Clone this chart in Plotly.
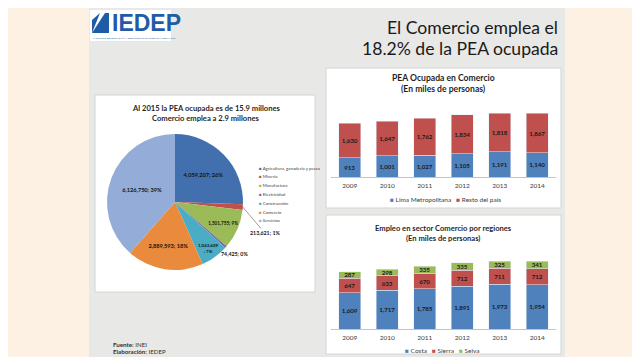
import math
import plotly.graph_objects as go

W, H = 640, 357
FONT = "Lato, 'Open Sans', sans-serif"

# ---------------- data ----------------
sectors = ["Agricultura, ganadería y pesca", "Minería", "Manufactura", "Electricidad",
           "Construcción", "Comercio", "Servicios"]
workers = [4059207, 213621, 1501755, 74425, 1043609, 2889593, 6126750]
sector_colors = ["#4270AE", "#C0504D", "#9BBB59", "#8064A2", "#4BACC6", "#EA8A3C", "#93ACD8"]

years = ["2009", "2010", "2011", "2012", "2013", "2014"]
lima = [913, 1001, 1027, 1105, 1191, 1140]
resto = [1630, 1647, 1762, 1834, 1818, 1867]
costa = [1609, 1717, 1785, 1891, 1973, 1954]
sierra = [647, 633, 670, 712, 711, 712]
selva = [287, 298, 335, 335, 325, 341]

BLUE, RED, GREEN = "#4F81BD", "#C0504D", "#9BBB59"


def px(x):
    return x / W


def py(y):
    return 1 - y / H


total = sum(workers)
comercio_share = workers[5] / total * 100

# pie labels built from the values
pie_text = []
for i, v in enumerate(workers):
    pct = round(v / total * 100)
    sep = "<br>" if sectors[i] == "Construcción" else ""
    pie_text.append(f"{v:,}{sep}; {pct}%")
small = {1, 3}
pie_pos = ["none" if i in small else "inside" for i in range(len(workers))]

fig = go.Figure()

# pie geometry (pixels)
CX, CY, R = 167, 194, 68
fig.add_trace(go.Pie(
    labels=sectors, values=workers, text=pie_text, textinfo="text",
    textposition=pie_pos, insidetextorientation="horizontal",
    sort=False, direction="clockwise", rotation=0,
    marker=dict(colors=sector_colors, line=dict(width=0)),
    textfont=dict(size=5.6, color="#141414", family=FONT, weight="bold"),
    domain=dict(x=[px(CX - R), px(CX + R)], y=[py(CY + R), py(CY - R)]),
    showlegend=False, hoverinfo="label+value+percent",
))

bar_common = dict(texttemplate="%{y:,}", textposition="inside", insidetextanchor="middle",
                  textangle=0, constraintext="none",
                  textfont=dict(size=6.2, color="#1a1a1a", family=FONT, weight="bold"),
                  showlegend=False)

fig.add_trace(go.Bar(x=years, y=lima, name="Lima Metropolitana", marker_color=BLUE,
                     xaxis="x", yaxis="y", **bar_common))
fig.add_trace(go.Bar(x=years, y=resto, name="Resto del país", marker_color=RED,
                     xaxis="x", yaxis="y", **bar_common))
fig.add_trace(go.Bar(x=years, y=costa, name="Costa", marker_color=BLUE,
                     xaxis="x2", yaxis="y2", **bar_common))
fig.add_trace(go.Bar(x=years, y=sierra, name="Sierra", marker_color=RED,
                     xaxis="x2", yaxis="y2", **bar_common))
fig.add_trace(go.Bar(x=years, y=selva, name="Selva", marker_color=GREEN,
                     xaxis="x2", yaxis="y2", **bar_common))

xax = dict(showline=True, linecolor="#c4c4c4", linewidth=1, ticks="", showgrid=False,
           tickfont=dict(size=6.5, color="#404040", family=FONT), fixedrange=True,
           ticklabelstandoff=2)
yax = dict(range=[0, 3500], visible=False, showgrid=False, fixedrange=True)

shapes = [
    # slide area
    dict(type="rect", xref="paper", yref="paper", x0=px(81), x1=px(557), y0=0, y1=1,
         fillcolor="#e8e8e6", line=dict(width=0), layer="below"),
    # logo box
    dict(type="rect", xref="paper", yref="paper", x0=px(82), x1=px(163), y0=py(33), y1=py(2),
         fillcolor="#ffffff", line=dict(width=0), layer="below"),
    dict(type="path", xref="paper", yref="paper",
         path=f"M {px(84)},{py(25)} L {px(97)},{py(5)} L {px(101)},{py(5)} L {px(101)},{py(25)} Z",
         fillcolor="#1F5CA8", line=dict(width=0), layer="below"),
    dict(type="path", xref="paper", yref="paper",
         path=f"M {px(84)},{py(25)} L {px(84)},{py(12)} L {px(92)},{py(5)} Z",
         fillcolor="#1F5CA8", line=dict(width=0), layer="below"),
    # panels
    dict(type="rect", xref="paper", yref="paper", x0=px(87), x1=px(307), y0=py(284), y1=py(87),
         fillcolor="#ffffff", line=dict(color="#d4d4d4", width=1), layer="below"),
    dict(type="rect", xref="paper", yref="paper", x0=px(318), x1=px(553), y0=py(200), y1=py(60),
         fillcolor="#ffffff", line=dict(color="#d4d4d4", width=1), layer="below"),
    dict(type="rect", xref="paper", yref="paper", x0=px(318), x1=px(553), y0=py(346), y1=py(207),
         fillcolor="#ffffff", line=dict(color="#d4d4d4", width=1), layer="below"),
]

ann = []


def text(x, y, s, size, color="#1f1f1f", bold=False, xanchor="center", family=FONT):
    ann.append(dict(x=px(x), y=py(y), xref="paper", yref="paper", text=s, showarrow=False,
                    xanchor=xanchor, yanchor="middle",
                    font=dict(size=size, color=color, family=family,
                              weight="bold" if bold else "normal")))


# main title
text(552, 19, "El Comercio emplea el", 17.6, "#1a1a1a", xanchor="right")
text(552, 40, f"{comercio_share:.1f}% de la PEA ocupada", 17.6, "#1a1a1a", xanchor="right")

# logo
text(102, 15, "IEDEP", 23, "#1F5CA8", bold=True, xanchor="left",
     family="'Liberation Sans Narrow', 'Arial Narrow', sans-serif")
text(83, 29.5, "INSTITUTO DE ECONOMÍA Y DESARROLLO EMPRESARIAL DE LA CCL", 2.6, "#1F5CA8",
     xanchor="left")

# pie title
text(198, 100, f"Al 2015 la PEA ocupada es de {total / 1e6:.1f} millones", 7.6, bold=True)
text(198, 110, f"Comercio emplea a {workers[5] / 1e6:.1f} millones", 7.6, bold=True)

# pie legend
for i, (name, col) in enumerate(zip(sectors, sector_colors)):
    text(249, 160 + 8.83 * i, f"<span style='color:{col}'>■</span> {name}", 4.4, "#404040",
         xanchor="left")

# labels of the thin slices
cum = 0
mids = []
for v in workers:
    mids.append((cum + v / 2) / total * 2 * math.pi)
    cum += v
th = mids[1]
tipx, tipy = CX + R * math.sin(th), CY - R * math.cos(th)
ann.append(dict(x=px(tipx), y=py(tipy), xref="paper", yref="paper", text=pie_text[1],
                showarrow=True, arrowhead=0, arrowwidth=0.7, arrowcolor="#8a7250",
                ax=22, ay=26, standoff=0, xanchor="center", yanchor="middle",
                font=dict(size=5.3, color="#141414", family=FONT, weight="bold")))
th = mids[3]
tipx, tipy = CX + R * math.sin(th), CY - R * math.cos(th)
ann.append(dict(x=px(tipx), y=py(tipy), xref="paper", yref="paper", text=pie_text[3],
                showarrow=False, xshift=9, yshift=-7, xanchor="center", yanchor="middle",
                font=dict(size=5.3, color="#141414", family=FONT, weight="bold")))

# bar chart titles
text(435, 70, "PEA Ocupada en Comercio", 8.6, bold=True)
text(435, 81, "(En miles de personas)", 8.6, bold=True)
text(435, 220, "Empleo en sector Comercio por regiones", 7.6, bold=True)
text(435, 230, "(En miles de personas)", 7.6, bold=True)


def legend_line(names, cols):
    return "   ".join(f"<span style='color:{c}'>■</span> {n}" for n, c in zip(names, cols))


text(437, 191, legend_line(["Lima Metropolitana", "Resto del país"], [BLUE, RED]), 6.5, "#404040")
text(434, 342, legend_line(["Costa", "Sierra", "Selva"], [BLUE, RED, GREEN]), 6.5, "#404040")

# source
text(103, 336, "<b>Fuente:</b> INEI", 6.2, "#333333", xanchor="left")
text(103, 343.5, "<b>Elaboración:</b> IEDEP", 6.2, "#333333", xanchor="left")

fig.update_layout(
    width=W, height=H, margin=dict(l=0, r=0, t=0, b=0),
    paper_bgcolor="#fdf1e3", plot_bgcolor="rgba(0,0,0,0)",
    barmode="stack", bargap=0.41,
    font=dict(family=FONT),
    xaxis=dict(domain=[px(323), px(548)], anchor="y", **xax),
    yaxis=dict(domain=[py(169), py(95)], anchor="x", **yax),
    xaxis2=dict(domain=[px(323), px(548)], anchor="y2", **xax),
    yaxis2=dict(domain=[py(321), py(242)], anchor="x2", **yax),
    shapes=shapes, annotations=ann, showlegend=False,
)

fig.write_html("out.html")
